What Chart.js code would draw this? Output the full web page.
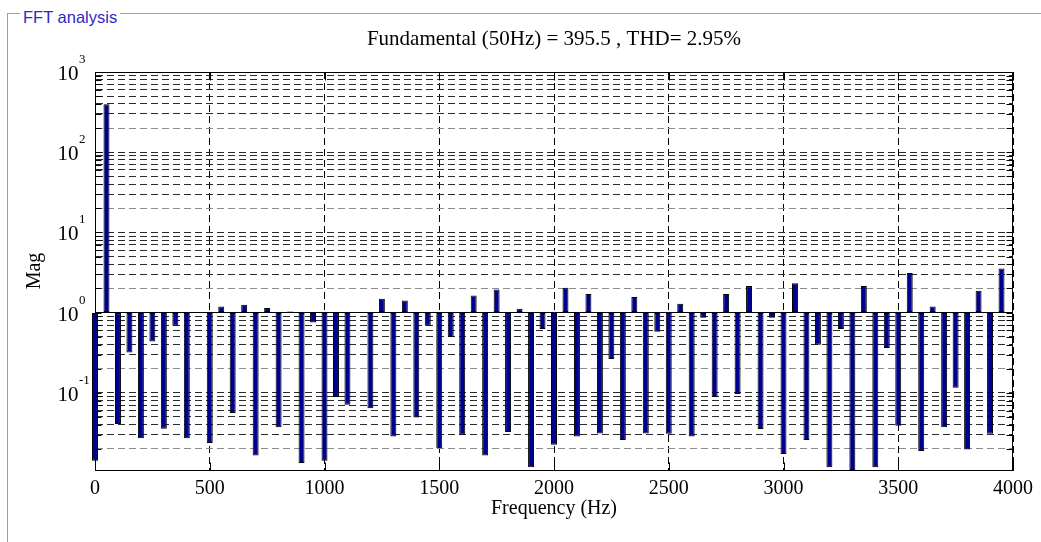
<!DOCTYPE html>
<html>
<head>
<meta charset="utf-8">
<script src="https://cdn.jsdelivr.net/npm/chart.js@4.4.1/dist/chart.umd.min.js"></script>
<style>
    body { margin: 0; background: #fff; }
    #cadre {
        position: absolute; left: 7px; top: 13px; width: 1034px; height: 529px;
        border-left: 1px solid #a0a0a0; border-top: 1px solid #a0a0a0;
    }
    #legende {
        position: absolute; left: 20px; top: 8.5px; padding: 0 3px; background: #fff;
        font: 16.5px/16.5px "Liberation Sans", Arial, sans-serif; color: #2a2ac8;
    }
    #zone { position: absolute; left: 0; top: 0; width: 1041px; height: 542px; }
</style>
</head>
<body>
<div id="cadre"></div>
<span id="legende">FFT analysis</span>
<div id="zone"><canvas id="fft"></canvas></div>
<script>
// harmonic frequencies (Hz)
const frequencias = [
    0, 50, 100, 150, 200, 250, 300, 350, 400, 450,
    500, 550, 600, 650, 700, 750, 800, 850, 900, 950,
    1000, 1050, 1100, 1150, 1200, 1250, 1300, 1350, 1400, 1450,
    1500, 1550, 1600, 1650, 1700, 1750, 1800, 1850, 1900, 1950,
    2000, 2050, 2100, 2150, 2200, 2250, 2300, 2350, 2400, 2450,
    2500, 2550, 2600, 2650, 2700, 2750, 2800, 2850, 2900, 2950,
    3000, 3050, 3100, 3150, 3200, 3250, 3300, 3350, 3400, 3450,
    3500, 3550, 3600, 3650, 3700, 3750, 3800, 3850, 3900, 3950
];
// magnitudes
const magnitudes = [
    0.0142, 395.5, 0.0407, 0.318, 0.0272, 0.436, 0.0356, 0.684, 0.0272, 1.0,
    0.0236, 1.19, 0.0558, 1.25, 0.0165, 1.14, 0.0373, 1.03, 0.0133, 0.753,
    0.0142, 0.0884, 0.0708, 1.0, 0.0644, 1.49, 0.0285, 1.42, 0.0492, 0.684,
    0.0204, 0.495, 0.0299, 1.63, 0.0165, 1.94, 0.0324, 1.12, 0.0118, 0.623,
    0.0225, 2.04, 0.0285, 1.70, 0.0311, 0.263, 0.0257, 1.56, 0.0311, 0.576,
    0.0308, 1.29, 0.0285, 0.861, 0.0884, 1.70, 0.0964, 2.14, 0.0353, 0.861,
    0.0172, 2.33, 0.0257, 0.397, 0.0118, 0.623, 0.0109, 2.14, 0.0118, 0.361,
    0.0388, 3.11, 0.0188, 1.19, 0.0373, 0.116, 0.0196, 1.87, 0.0308, 3.55
];

const yMin = 0.0109;
const yMax = 1000;
const decadas = [0.01, 0.1, 1, 10, 100, 1000];
const expoentes = ['-2', '-1', '0', '1', '2', '3'];
const multiplicadores = [1, 2, 3, 4, 5, 6, 7, 8, 9];
const xTicks = [0, 500, 1000, 1500, 2000, 2500, 3000, 3500, 4000];

const titulo = 'Fundamental (50Hz) = 395.5 , THD= 2.95%';
const serif = '"Liberation Serif", "Times New Roman", serif';

// all log grid positions inside the axis range
const linhasY = [];
decadas.forEach(d => multiplicadores.forEach(m => {
    const v = +(d * m).toPrecision(3);
    if (v >= yMin && v <= yMax) linhasY.push({ v: v, m: m });
}));

function corLinha(ctx) {
    if (!ctx.tick) return '#000';
    const l = linhasY.find(g => g.v === ctx.tick.value);
    if (ctx.tick.value === 1) return '#000';
    return l && l.m === 2 ? '#8c8c8c' : '#2a2a2a';
}

const molduraPlugin = {
    id: 'moldura',
    afterDraw(chart) {
        const { ctx, scales: { x, y } } = chart;
        const L = 95.5, R = 1012.5, T = 72.5, B = 470.5;
        ctx.save();
        ctx.strokeStyle = '#000';
        ctx.lineWidth = 1;
        ctx.beginPath();
        ctx.moveTo(L, T); ctx.lineTo(R, T); ctx.lineTo(R, B);
        // inside ticks
        linhasY.forEach(g => {
            const py = Math.round(y.getPixelForValue(g.v)) + 0.5;
            ctx.moveTo(L, py); ctx.lineTo(L + 6, py);
            ctx.moveTo(R - 6, py); ctx.lineTo(R, py);
        });
        xTicks.forEach(v => {
            const px = Math.round(x.getPixelForValue(v)) + 0.5;
            ctx.moveTo(px, B); ctx.lineTo(px, B - 8);
            ctx.moveTo(px, T); ctx.lineTo(px, T + 8);
        });
        ctx.stroke();

        // y labels 10^n
        ctx.fillStyle = '#000';
        decadas.forEach((d, i) => {
            if (d < yMin) return;
            const py = y.getPixelForValue(d);
            ctx.font = '21px ' + serif;
            ctx.textAlign = 'right';
            ctx.textBaseline = 'alphabetic';
            ctx.fillText('10', 78.5, py + 8);
            ctx.font = '13px ' + serif;
            ctx.textAlign = 'left';
            ctx.fillText(expoentes[i], 79, py - 9);
        });
        ctx.restore();
    }
};

function main() {
    Chart.defaults.font.family = serif;
    Chart.defaults.color = '#000';
    const ctx = document.getElementById('fft').getContext('2d');
    const pontos = frequencias.map((f, i) => ({ x: f, y: magnitudes[i] }));

    window.graficoFFT = new Chart(ctx, {
        type: 'bar',
        data: {
            datasets: [{
                label: 'Mag',
                data: pontos,
                base: 1,
                backgroundColor: '#00008f',
                borderColor: '#000',
                borderWidth: 1,
                borderSkipped: false,
                categoryPercentage: 1,
                barPercentage: 0.52,
                clip: { left: 6, top: 0, right: 0, bottom: 0 }
            }]
        },
        options: {
            animation: false,
            responsive: true,
            maintainAspectRatio: false,
            layout: { padding: { left: 0, right: 28, top: 0, bottom: 0 } },
            plugins: {
                legend: { display: false },
                tooltip: { enabled: false },
                title: {
                    display: true,
                    text: titulo,
                    fullSize: false,
                    color: '#000',
                    font: { size: 21, weight: 'normal', lineHeight: 1.2 },
                    padding: { top: 27, bottom: 19.8 }
                }
            },
            scales: {
                x: {
                    type: 'linear',
                    min: 0,
                    max: 4000,
                    offset: false,
                    afterBuildTicks: (s) => { s.ticks = xTicks.map(v => ({ value: v })); },
                    ticks: {
                        autoSkip: false,
                        maxRotation: 0,
                        padding: 7,
                        color: '#000',
                        font: { size: 20, lineHeight: 1.2 },
                        callback: (v) => String(v)
                    },
                    grid: { offset: false, drawTicks: false, color: '#000' },
                    border: { color: '#000', width: 1, dash: [7, 4] },
                    title: {
                        display: true,
                        text: 'Frequency (Hz)',
                        color: '#000',
                        font: { size: 20, lineHeight: 1.2 },
                        padding: { top: 0, bottom: 21 }
                    },
                    afterFit: (s) => { s.height = 72; }
                },
                y: {
                    type: 'logarithmic',
                    min: yMin,
                    max: yMax,
                    afterBuildTicks: (s) => { s.ticks = linhasY.map(g => ({ value: g.v })); },
                    ticks: { display: false },
                    grid: { drawTicks: false, color: corLinha, lineWidth: 1 },
                    border: {
                        color: '#000',
                        width: 1,
                        dash: (c) => (c.tick && c.tick.value === 1 ? [] : [7, 4])
                    },
                    title: {
                        display: true,
                        text: 'Mag',
                        color: '#000',
                        font: { size: 20, lineHeight: 1.2 },
                        padding: { top: 23, bottom: 0 }
                    },
                    afterFit: (s) => { s.width = 95; }
                }
            }
        },
        plugins: [molduraPlugin]
    });
}

window.addEventListener('DOMContentLoaded', main);
</script>
</body>
</html>
